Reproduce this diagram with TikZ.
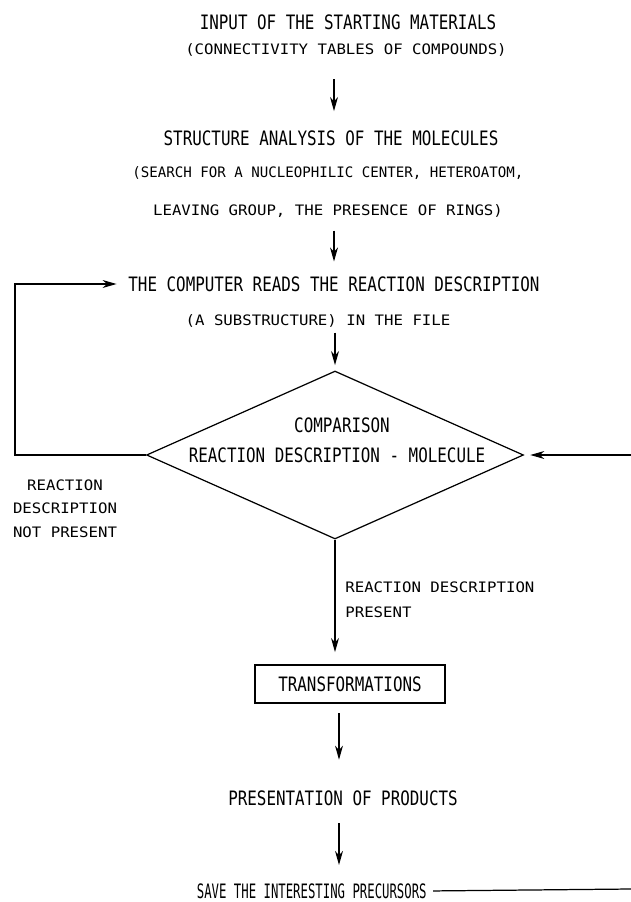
\documentclass[tikz,border=0pt]{standalone}
\usepackage{fontspec}
\usepackage{tikz}
\usetikzlibrary{shapes.geometric, arrows.meta}
\newfontfamily\plotbig[FakeStretch=0.8]{DejaVu Sans Mono}
\newfontfamily\plotnarrow[FakeStretch=0.62]{DejaVu Sans Mono}
\newfontfamily\plotsmall[FakeStretch=1.09]{DejaVu Sans Mono}
\newfontfamily\plotsmalln[FakeStretch=0.98]{DejaVu Sans Mono}
\tikzstyle{bigtext}   = [inner sep=0pt, text height=8.2pt, text depth=0pt, font={\plotbig\fontsize{11.3}{13}\selectfont}]
\tikzstyle{smalltext} = [inner sep=0pt, text height=6pt, text depth=0pt, font={\plotsmall\fontsize{8.2}{10}\selectfont}]
\tikzstyle{decision}  = [diamond, draw=black, line width=0.7pt, minimum width=7.54cm, minimum height=3.36cm, inner sep=0pt]
\tikzstyle{process}   = [rectangle, draw=black, line width=0.7pt, minimum width=3.8cm, minimum height=0.76cm, text height=8.2pt, text depth=0pt, font={\plotbig\fontsize{11.3}{13}\selectfont}]
\tikzstyle{arrow}     = [line width=0.7pt, -{Stealth[length=8pt,width=4.5pt,inset=2.5pt]}]
\tikzstyle{line}      = [line width=0.7pt]

\begin{document}
\begin{tikzpicture}[x=0.02cm, y=-0.02cm]
    \useasboundingbox (0,0) rectangle (631,902);

    \node (input)   [bigtext]   at (348,22)  {INPUT OF THE STARTING MATERIALS};
    \node (conntab) [smalltext] at (346,49)  {(CONNECTIVITY TABLES OF COMPOUNDS)};
    \node (struct)  [bigtext]   at (331,138) {STRUCTURE ANALYSIS OF THE MOLECULES};
    \node (search)  [smalltext, font={\plotsmalln\fontsize{8.2}{10}\selectfont}] at (328,172) {(SEARCH FOR A NUCLEOPHILIC CENTER, HETEROATOM,};
    \node (leaving) [smalltext] at (328,210) {LEAVING GROUP, THE PRESENCE OF RINGS)};
    \node (reads)   [bigtext]   at (334,284) {THE COMPUTER READS THE REACTION DESCRIPTION};
    \node (substr)  [smalltext] at (318,320) {(A SUBSTRUCTURE) IN THE FILE};

    \node (comp)    [decision]  at (335,455) {};
    \node (compa)   [bigtext]   at (342,425) {COMPARISON};
    \node (compb)   [bigtext]   at (337,455) {REACTION DESCRIPTION - MOLECULE};

    \node (notpa)   [smalltext] at (65,485)  {REACTION};
    \node (notpb)   [smalltext] at (65,508)  {DESCRIPTION};
    \node (notpc)   [smalltext] at (65,532)  {NOT PRESENT};
    \node (presa)   [smalltext, anchor=west] at (345,587) {REACTION DESCRIPTION};
    \node (presb)   [smalltext, anchor=west] at (345,612) {PRESENT};

    \node (transf)  [process]   at (350,684) {TRANSFORMATIONS};
    \node (present) [bigtext]   at (343,798) {PRESENTATION OF PRODUCTS};
    \node (save)    [bigtext, font={\plotnarrow\fontsize{11.3}{13}\selectfont}, anchor=east] at (427,891) {SAVE THE INTERESTING PRECURSORS};

    \coordinate (col)     at (334,0);
    \coordinate (colb)    at (339,0);
    \coordinate (loopbl)  at (15,455);
    \coordinate (rightin) at (631,455);
    \coordinate (saveend) at (631,889);

    \draw [arrow, shorten <=14pt, shorten >=11pt] (conntab.south -| col) -- (struct.north -| col);
    \draw [arrow, shorten <=8.5pt, shorten >=8.5pt] (leaving.south -| col) -- (reads.north -| col);
    \draw [arrow, shorten <=4pt, shorten >=3pt] (substr.south -| comp.north) -- (comp.north);
    \draw [arrow, shorten >=6.5pt] (comp.west) -- (loopbl) |- (reads.west);
    \draw [arrow, shorten >=3.5pt] (rightin) -- (comp.east);
    \draw [arrow, shorten >=7pt] (comp.south) -- (transf.north -| comp.south);
    \draw [arrow, shorten <=5.5pt, shorten >=17.5pt] (transf.south -| colb) -- (present.north -| colb);
    \draw [arrow, shorten <=10pt, shorten >=10.5pt] (present.south -| colb) -- (save.north -| colb);
    \draw [line, shorten <=3.5pt] (save.east) -- (saveend);

\end{tikzpicture}
\end{document}
